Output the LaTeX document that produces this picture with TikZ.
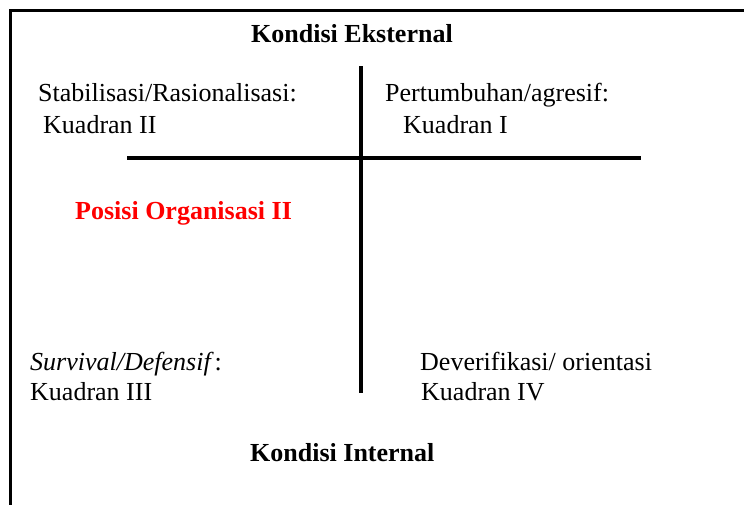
\documentclass[tikz,border=0pt]{standalone}
\usepackage{fontspec}
\setmainfont{Liberation Serif}
\begin{document}
\begin{tikzpicture}[x=1pt,y=-1pt,
  lbl/.style={anchor=base west, inner sep=0pt, font=\fontsize{26}{30}\selectfont},
  head/.style={lbl, font=\fontsize{26}{30}\selectfont\bfseries},
  axis/.style={line width=3.5pt},
  frame/.style={line width=3pt}]
\useasboundingbox (0,0) rectangle (744,504);
\clip (0,0) rectangle (744,504);
\fill[white] (0,0) rectangle (744,504);
% frame (cut off at right and bottom)
\draw[frame] (10,10) rectangle (760,520);
% axes
\coordinate (vtop) at (361,66);
\coordinate (vbot) at (361,393);
\coordinate (hleft) at (127,158);
\coordinate (hright) at (641,158);
\draw[axis] (vtop) -- (vbot);
\draw[axis] (hleft) -- (hright);
% texts
\node[head] (ext) at (251,42.5) {Kondisi Eksternal};
\node[lbl] (q2a) at (38,101.5) {Stabilisasi/Rasionalisasi:};
\node[lbl] (q2b) at (43,133) {Kuadran II};
\node[lbl] (q1a) at (385,101.5) {Pertumbuhan/agresif:};
\node[lbl] (q1b) at (403,133) {Kuadran I};
\node[head, text=red] (pos) at (75,219.5) {Posisi Organisasi II};
\node[lbl] (q3a) at (30,370) {{\itshape Survival/Defensif}\hspace{4pt}:};
\node[lbl] (q3b) at (30,400) {Kuadran III};
\node[lbl] (q4a) at (420,370) {Deverifikasi/ orientasi};
\node[lbl] (q4b) at (421,400.5) {Kuadran IV};
\node[head] (int) at (250,461) {Kondisi Internal};
\end{tikzpicture}
\end{document}
